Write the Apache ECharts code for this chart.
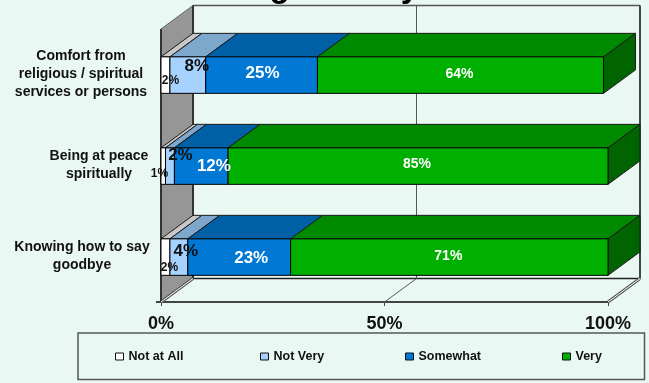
<!DOCTYPE html>
<html><head><meta charset="utf-8">
<style>html,body{margin:0;padding:0;background:#EAF8F4}#c{width:649px;height:383px}</style>
<script src="https://cdn.jsdelivr.net/npm/echarts@6/dist/echarts.min.js"></script>
</head><body><div id="c"></div>
<script>
const categories = ['Comfort from\nreligious / spiritual\nservices or persons', 'Being at peace\nspiritually', 'Knowing how to say\ngoodbye'];
const seriesNames = ['Not at All', 'Not Very', 'Somewhat', 'Very'];
const notAtAll = [2, 1, 2];
const notVery = [8, 2, 4];
const somewhat = [25, 12, 23];
const very = [64, 85, 71];
const axisTicks = [0, 50, 100];

const values = [notAtAll, notVery, somewhat, very];
const FONT = '"Liberation Sans", Arial, sans-serif';
const DX = 32, DY = -23.5, BAR_H = 36.5, BAR_SHIFT = 0.6;
const frontColors = ['#FFFFFF', '#A6D2FF', '#0078D4', '#00B000'];
const topColors = ['#C8C8C8', '#7DA8CC', '#0060A6', '#008A00'];
const sideColor = '#006400';
const labelColors = ['#111', '#111', '#fff', '#fff'];
const labelSizes = [12, 17, 17, 14];
// hand placement of the value labels relative to the segment centre [dx, dy]
const labelNudge = [
  [[5, 6.5], [-3.7, 8.5], [4, 11.5]],
  [[9, -8], [10.5, -10.5], [7, -5]],
  [[1, -1.5], [12.7, 0.5], [12, 1.8]],
  [[-1, -0.5], [-1, -1], [-1, -0.5]]
];
const legendLeft = [115, 260, 405, 562];
const labelWidths = [134, 98, 132];

function rows(sIdx) {
  return categories.map((_, c) => {
    let start = 0;
    for (let i = 0; i < sIdx; i++) start += values[i][c];
    return [start, start + values[sIdx][c], c];
  });
}
function poly(points, fill, stroke, lw, z2) {
  return {type: 'polygon', z2: z2, shape: {points}, style: {fill, stroke, lineWidth: lw}};
}
function line(a, b, stroke, lw, z2) {
  return {type: 'line', z2: z2 || 0, shape: {x1: a[0], y1: a[1], x2: b[0], y2: b[1]}, style: {stroke, lineWidth: lw, fill: null}};
}

function renderBar(sIdx) {
  return function (params, api) {
    const c = api.value(2);
    const p0 = api.coord([api.value(0), c]);
    const p1 = api.coord([api.value(1), c]);
    const x0 = p0[0], x1 = p1[0];
    const y0 = p0[1] + BAR_SHIFT - BAR_H / 2, y1 = p0[1] + BAR_SHIFT + BAR_H / 2;
    const kids = [];
    kids.push(poly([[x0, y0], [x0 + DX, y0 + DY], [x1 + DX, y0 + DY], [x1, y0]], topColors[sIdx], '#1a1a1a', 1, 1 + sIdx));
    if (sIdx === values.length - 1) {
      kids.push(poly([[x1, y0], [x1 + DX, y0 + DY], [x1 + DX, y1 + DY], [x1, y1]], sideColor, '#1a1a1a', 1, 1 + sIdx));
    }
    kids.push(poly([[x0, y0], [x1, y0], [x1, y1], [x0, y1]], frontColors[sIdx], '#000', 1, 10 + sIdx));
    const n = labelNudge[sIdx][c];
    kids.push({
      type: 'text', z2: 100,
      x: (x0 + x1) / 2 + n[0], y: p0[1] + n[1],
      style: {
        text: values[sIdx][c] + '%', fill: labelColors[sIdx], align: 'center', verticalAlign: 'middle',
        font: 'bold ' + labelSizes[sIdx] + 'px ' + FONT
      }
    });
    return {type: 'group', children: kids};
  };
}

function renderWalls(params) {
  const g = params.coordSys;
  const L = g.x, R = g.x + g.width, T = g.y, B = g.y + g.height;
  const bL = L + DX, bR = R + DX, bT = T + DY, bB = B + DY;
  return {type: 'group', children: [
    poly([[L, T], [bL, bT], [bL, bB], [L, B]], '#969696', null, 0, 0),
    line([L, T], [bL, bT], '#666', 1, 1),
    line([L, T], [L, B], '#333', 2, 2),
    line([bL, bT], [bL, bB], '#333', 2, 2),
    line([bL, bT], [bR, bT], '#555', 1.5, 1),
    line([bR, bT], [bR, bB], '#444', 2, 1),
    line([bL, bB], [bR, bB], '#222', 1.5, 1),
    line([L, B], [bL, bB], '#555', 3, 1),
    line([L, B], [bL, bB], '#fff', 1, 2),
    line([R, B], [bR, bB], '#555', 3, 1),
    line([R, B], [bR, bB], '#fff', 1, 2),
    line([L - 5, B], [L, B], '#444', 2, 1)
  ]};
}
function renderGrid(params, api) {
  const g = params.coordSys;
  const x = api.coord([api.value(0), 0])[0];
  const B = g.y + g.height, T = g.y;
  return {type: 'group', children: [
    line([x, B], [x + DX, B + DY], '#555', 1, 3),
    line([x + DX, B + DY], [x + DX, T + DY], '#555', 1, 3)
  ]};
}

const barSeries = seriesNames.map((name, i) => ({
  name, type: 'custom', z: 5, coordinateSystem: 'cartesian2d',
  itemStyle: {color: frontColors[i]},
  encode: {x: [0, 1], y: 2},
  data: rows(i), renderItem: renderBar(i), clip: false, animation: false
}));

const option = {
  animation: false,
  backgroundColor: '#EAF8F4',
  textStyle: {fontFamily: FONT},
  grid: {left: 161, right: 41, top: 29, bottom: 81},
  xAxis: {
    type: 'value', min: axisTicks[0], max: axisTicks[2], interval: axisTicks[1],
    splitLine: {show: false},
    axisLine: {show: true, onZero: false, lineStyle: {color: '#444', width: 2}},
    axisTick: {show: true, length: 4, lineStyle: {color: '#444', width: 1}},
    axisLabel: {formatter: '{value}%', margin: 13, fontSize: 18, fontWeight: 'bold', color: '#111', fontFamily: FONT, hideOverlap: false}
  },
  yAxis: {
    type: 'category', inverse: true, data: categories,
    axisLine: {show: false}, axisTick: {show: false}, splitLine: {show: false},
    axisLabel: {
      margin: 13, align: 'right',
      formatter: function (v, i) {
        return v.split('\n').map(s => '{c' + i + '|' + s + '}').join('\n');
      },
      rich: Object.fromEntries(labelWidths.map((w, i) => ['c' + i, {
        width: w, align: 'center', fontSize: 14, lineHeight: 18, fontWeight: 'bold', color: '#111', fontFamily: FONT
      }]))
    }
  },
  legend: seriesNames.map((name, i) => ({
    left: legendLeft[i], top: 350, padding: 0, itemWidth: 8, itemHeight: 7,
    icon: 'rect',
    textStyle: {fontSize: 12.5, fontWeight: 'bold', color: '#111', fontFamily: FONT},
    itemStyle: {borderColor: '#111', borderWidth: 1},
    data: [name], selectedMode: false
  })),
  graphic: [
    {type: 'rect', z: 0, shape: {x: 78, y: 333, width: 566.5, height: 46.5},
      style: {fill: 'transparent', stroke: '#555', lineWidth: 1.5}},
    {type: 'text', z: 0, x: 279.5, y: -12, style: {text: 'g', fill: '#000', align: 'center', verticalAlign: 'middle', font: 'bold 33px ' + FONT}},
    {type: 'text', z: 0, x: 410, y: -12, style: {text: 'y', fill: '#000', align: 'center', verticalAlign: 'middle', font: 'bold 33px ' + FONT}}
  ],
  series: [
    {type: 'custom', z: 1, data: [[0]], encode: {x: 0}, renderItem: renderWalls, clip: false, silent: true},
    {type: 'custom', z: 1, data: [[axisTicks[1]]], encode: {x: 0}, renderItem: renderGrid, clip: false, silent: true}
  ].concat(barSeries)
};
echarts.init(document.getElementById('c'), null, {renderer: 'canvas'}).setOption(option);
</script></body></html>
